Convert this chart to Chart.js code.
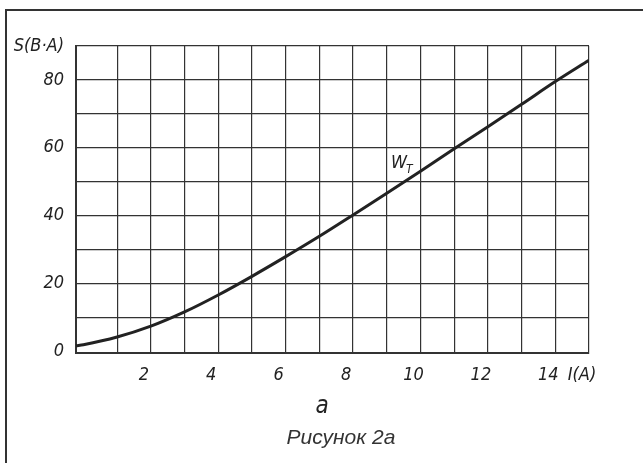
<!DOCTYPE html>
<html>
<head>
<meta charset="utf-8">
<script src="https://cdn.jsdelivr.net/npm/chart.js@4"></script>
<style>
  body { margin: 0; background: #fff; }
  #wrap { width: 643px; height: 463px; }
</style>
</head>
<body>
<div id="wrap"><canvas id="chart"></canvas></div>
<script>
const currentA = [-0.22, 0, 1, 2, 3, 4, 5, 6, 7, 8, 9, 10, 11, 12, 13, 14, 15];
const powerVA = [1.6, 1.95, 4.2, 7.4, 11.6, 16.6, 22.1, 27.9, 33.9, 40.2, 46.6, 53.1, 59.7, 66.2, 72.8, 79.5, 85.8];
const xTicks = [1, 2, 3, 4, 5, 6, 7, 8, 9, 10, 11, 12, 13, 14, 15];
const yTicks = [0, 10, 20, 30, 40, 50, 60, 70, 80, 90];
const xLabels = { 2: '2', 4: '4', 6: '6', 8: '8', 10: '10', 12: '12', 14: '14', 15: 'I(A)' };
const yLabels = { 0: '0', 20: '20', 40: '40', 60: '60', 80: '80', 90: 'S(B·A)' };
const curveName = { text: 'W', sub: 'T', x: 9.3, y: 56 };

const drawFont = "'Liberation Sans Narrow', 'DejaVu Sans Condensed', sans-serif";
const ink = '#222';

// frame, curve name and captions
const extras = {
  id: 'extras',
  afterDraw(chart) {
    const ctx = chart.ctx;
    const { x, y } = chart.scales;
    ctx.save();
    ctx.strokeStyle = '#333';
    ctx.lineWidth = 2;
    ctx.beginPath();
    ctx.moveTo(643, 10);
    ctx.lineTo(6, 10);
    ctx.lineTo(6, 463);
    ctx.stroke();

    ctx.fillStyle = ink;
    const px = x.getPixelForValue(curveName.x);
    const py = y.getPixelForValue(curveName.y);
    ctx.font = 'italic 18px ' + drawFont;
    ctx.textAlign = 'left';
    ctx.textBaseline = 'alphabetic';
    ctx.fillText(curveName.text, px - 6, py + 7);
    ctx.font = 'italic 12px ' + drawFont;
    ctx.fillText(curveName.sub, px + 9, py + 12);

    ctx.textAlign = 'center';
    ctx.textBaseline = 'middle';
    ctx.font = 'italic 24px ' + drawFont;
    ctx.fillText('а', 322, 407);
    ctx.fillStyle = '#333';
    ctx.font = 'italic 21px "Liberation Sans", Arial, sans-serif';
    ctx.fillText('Рисунок 2а', 341, 438);
    ctx.restore();
  }
};

const ctx = document.getElementById('chart').getContext('2d');
new Chart(ctx, {
  type: 'line',
  data: {
    labels: currentA,
    datasets: [{
      data: currentA.map((v, i) => ({ x: v, y: powerVA[i] })),
      borderColor: ink,
      borderWidth: 3,
      pointRadius: 0,
      cubicInterpolationMode: 'monotone',
      fill: false,
    }],
  },
  options: {
    responsive: true,
    maintainAspectRatio: false,
    animation: false,
    layout: { padding: { top: 46, right: 54, left: 0, bottom: 0 } },
    plugins: { legend: { display: false }, tooltip: { enabled: false } },
    scales: {
      x: {
        type: 'linear',
        min: -0.22,
        max: 15,
        afterBuildTicks: (s) => { s.ticks = xTicks.map((v) => ({ value: v })); },
        afterFit: (s) => { s.height = 110; },
        grid: { color: '#333', lineWidth: 1.2, drawTicks: false },
        border: { color: '#333', width: 2 },
        ticks: {
          autoSkip: false,
          maxRotation: 0,
          padding: 12,
          labelOffset: -7,
          color: ink,
          font: { family: drawFont, size: 18, style: 'italic' },
          callback: (v) => xLabels[v] || '',
        },
      },
      y: {
        min: -0.5,
        max: 90,
        afterBuildTicks: (s) => { s.ticks = yTicks.map((v) => ({ value: v })); },
        afterFit: (s) => { s.width = 76; },
        grid: {
          color: (c) => (c.tick && c.tick.value === 0 ? 'rgba(0,0,0,0)' : '#333'),
          lineWidth: 1.2,
          drawTicks: false,
        },
        border: { color: '#333', width: 2 },
        ticks: {
          autoSkip: false,
          padding: 12,
          color: ink,
          font: { family: drawFont, size: 18, style: 'italic' },
          callback: (v) => yLabels[v] || '',
        },
      },
    },
  },
  plugins: [extras],
});
</script>
</body>
</html>
